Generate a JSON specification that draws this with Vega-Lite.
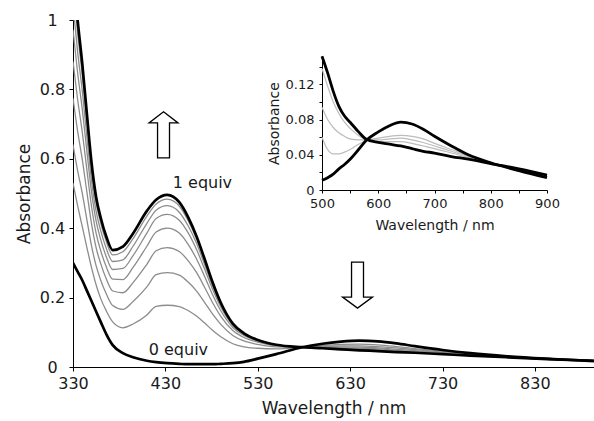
{
 "$schema": "https://vega.github.io/schema/vega-lite/v6.json",
 "width": 521,
 "height": 347,
 "autosize": {"type": "none"},
 "padding": {"left": 73, "top": 20, "right": 0, "bottom": 54},
 "config": {
  "view": {"stroke": null},
  "font": "DejaVu Sans",
  "axis": {"grid": false, "domainColor": "#000", "tickColor": "#000", "labelColor": "#1a1a1a", "titleColor": "#1a1a1a", "titleFontWeight": "normal", "labelFont": "DejaVu Sans", "titleFont": "DejaVu Sans", "domainWidth": 1, "tickWidth": 1}
 },
 "datasets": {
  "mb": [
   {"c":"e1","w":330,"a":1.15},{"c":"e1","w":335,"a":1.0},{"c":"e1","w":340,"a":0.875},{"c":"e1","w":345,"a":0.73},{"c":"e1","w":350,"a":0.59},{"c":"e1","w":355,"a":0.49},{"c":"e1","w":360,"a":0.43},{"c":"e1","w":366,"a":0.376},{"c":"e1","w":373,"a":0.337},{"c":"e1","w":384,"a":0.347},{"c":"e1","w":395,"a":0.385},{"c":"e1","w":410,"a":0.45},{"c":"e1","w":420,"a":0.482},{"c":"e1","w":432,"a":0.496},{"c":"e1","w":445,"a":0.475},{"c":"e1","w":455,"a":0.43},{"c":"e1","w":464,"a":0.375},{"c":"e1","w":472,"a":0.315},{"c":"e1","w":481,"a":0.245},{"c":"e1","w":490,"a":0.185},{"c":"e1","w":503,"a":0.125},{"c":"e1","w":515,"a":0.097},{"c":"e1","w":530,"a":0.078},{"c":"e1","w":550,"a":0.064},{"c":"e1","w":578,"a":0.057},{"c":"e1","w":600,"a":0.054},{"c":"e1","w":620,"a":0.051},{"c":"e1","w":640,"a":0.048},{"c":"e1","w":660,"a":0.046},{"c":"e1","w":680,"a":0.043},{"c":"e1","w":700,"a":0.041},{"c":"e1","w":730,"a":0.037},{"c":"e1","w":760,"a":0.033},{"c":"e1","w":800,"a":0.028},{"c":"e1","w":850,"a":0.022},{"c":"e1","w":894,"a":0.018},
   {"c":"e0","w":330,"a":0.30},{"c":"e0","w":335,"a":0.275},{"c":"e0","w":340,"a":0.25},{"c":"e0","w":345,"a":0.22},{"c":"e0","w":350,"a":0.19},{"c":"e0","w":355,"a":0.16},{"c":"e0","w":360,"a":0.13},{"c":"e0","w":366,"a":0.095},{"c":"e0","w":373,"a":0.063},{"c":"e0","w":384,"a":0.04},{"c":"e0","w":395,"a":0.028},{"c":"e0","w":410,"a":0.018},{"c":"e0","w":420,"a":0.014},{"c":"e0","w":432,"a":0.011},{"c":"e0","w":445,"a":0.009},{"c":"e0","w":455,"a":0.008},{"c":"e0","w":464,"a":0.008},{"c":"e0","w":472,"a":0.008},{"c":"e0","w":481,"a":0.008},{"c":"e0","w":490,"a":0.009},{"c":"e0","w":503,"a":0.011},{"c":"e0","w":515,"a":0.015},{"c":"e0","w":530,"a":0.024},{"c":"e0","w":550,"a":0.037},{"c":"e0","w":578,"a":0.057},{"c":"e0","w":600,"a":0.067},{"c":"e0","w":620,"a":0.073},{"c":"e0","w":640,"a":0.076},{"c":"e0","w":660,"a":0.074},{"c":"e0","w":680,"a":0.068},{"c":"e0","w":700,"a":0.06},{"c":"e0","w":730,"a":0.049},{"c":"e0","w":760,"a":0.04},{"c":"e0","w":800,"a":0.031},{"c":"e0","w":850,"a":0.023},{"c":"e0","w":894,"a":0.017}
  ],
  "mg": [
   {"c":"g1","w":330,"a":1.107},{"c":"g1","w":335,"a":0.963},{"c":"g1","w":340,"a":0.843},{"c":"g1","w":345,"a":0.704},{"c":"g1","w":350,"a":0.570},{"c":"g1","w":355,"a":0.473},{"c":"g1","w":360,"a":0.415},{"c":"g1","w":366,"a":0.362},{"c":"g1","w":373,"a":0.323},{"c":"g1","w":384,"a":0.332},{"c":"g1","w":395,"a":0.370},{"c":"g1","w":410,"a":0.435},{"c":"g1","w":420,"a":0.470},{"c":"g1","w":432,"a":0.484},{"c":"g1","w":445,"a":0.464},{"c":"g1","w":455,"a":0.420},{"c":"g1","w":464,"a":0.367},{"c":"g1","w":472,"a":0.308},{"c":"g1","w":481,"a":0.241},{"c":"g1","w":490,"a":0.183},{"c":"g1","w":503,"a":0.124},{"c":"g1","w":515,"a":0.097},{"c":"g1","w":530,"a":0.078},{"c":"g1","w":550,"a":0.064},{"c":"g1","w":578,"a":0.057},{"c":"g1","w":600,"a":0.054},{"c":"g1","w":620,"a":0.052},{"c":"g1","w":640,"a":0.049},{"c":"g1","w":660,"a":0.047},{"c":"g1","w":680,"a":0.044},{"c":"g1","w":700,"a":0.042},{"c":"g1","w":730,"a":0.037},{"c":"g1","w":760,"a":0.033},{"c":"g1","w":800,"a":0.028},{"c":"g1","w":850,"a":0.022},{"c":"g1","w":894,"a":0.018},
   {"c":"g2","w":330,"a":1.044},{"c":"g2","w":335,"a":0.909},{"c":"g2","w":340,"a":0.797},{"c":"g2","w":345,"a":0.666},{"c":"g2","w":350,"a":0.540},{"c":"g2","w":355,"a":0.449},{"c":"g2","w":360,"a":0.393},{"c":"g2","w":366,"a":0.342},{"c":"g2","w":373,"a":0.304},{"c":"g2","w":384,"a":0.309},{"c":"g2","w":395,"a":0.348},{"c":"g2","w":410,"a":0.414},{"c":"g2","w":420,"a":0.452},{"c":"g2","w":432,"a":0.465},{"c":"g2","w":445,"a":0.446},{"c":"g2","w":455,"a":0.405},{"c":"g2","w":464,"a":0.355},{"c":"g2","w":472,"a":0.299},{"c":"g2","w":481,"a":0.234},{"c":"g2","w":490,"a":0.178},{"c":"g2","w":503,"a":0.122},{"c":"g2","w":515,"a":0.096},{"c":"g2","w":530,"a":0.078},{"c":"g2","w":550,"a":0.064},{"c":"g2","w":578,"a":0.057},{"c":"g2","w":600,"a":0.055},{"c":"g2","w":620,"a":0.052},{"c":"g2","w":640,"a":0.050},{"c":"g2","w":660,"a":0.048},{"c":"g2","w":680,"a":0.045},{"c":"g2","w":700,"a":0.042},{"c":"g2","w":730,"a":0.038},{"c":"g2","w":760,"a":0.033},{"c":"g2","w":800,"a":0.028},{"c":"g2","w":850,"a":0.022},{"c":"g2","w":894,"a":0.018},
   {"c":"g3","w":330,"a":0.972},{"c":"g3","w":335,"a":0.848},{"c":"g3","w":340,"a":0.744},{"c":"g3","w":345,"a":0.623},{"c":"g3","w":350,"a":0.506},{"c":"g3","w":355,"a":0.421},{"c":"g3","w":360,"a":0.367},{"c":"g3","w":366,"a":0.318},{"c":"g3","w":373,"a":0.281},{"c":"g3","w":384,"a":0.284},{"c":"g3","w":395,"a":0.321},{"c":"g3","w":410,"a":0.386},{"c":"g3","w":420,"a":0.428},{"c":"g3","w":432,"a":0.440},{"c":"g3","w":445,"a":0.423},{"c":"g3","w":455,"a":0.385},{"c":"g3","w":464,"a":0.337},{"c":"g3","w":472,"a":0.285},{"c":"g3","w":481,"a":0.225},{"c":"g3","w":490,"a":0.173},{"c":"g3","w":503,"a":0.120},{"c":"g3","w":515,"a":0.094},{"c":"g3","w":530,"a":0.077},{"c":"g3","w":550,"a":0.064},{"c":"g3","w":578,"a":0.057},{"c":"g3","w":600,"a":0.056},{"c":"g3","w":620,"a":0.054},{"c":"g3","w":640,"a":0.051},{"c":"g3","w":660,"a":0.049},{"c":"g3","w":680,"a":0.046},{"c":"g3","w":700,"a":0.043},{"c":"g3","w":730,"a":0.038},{"c":"g3","w":760,"a":0.034},{"c":"g3","w":800,"a":0.028},{"c":"g3","w":850,"a":0.022},{"c":"g3","w":894,"a":0.018},
   {"c":"g4","w":330,"a":0.881},{"c":"g4","w":335,"a":0.771},{"c":"g4","w":340,"a":0.678},{"c":"g4","w":345,"a":0.569},{"c":"g4","w":350,"a":0.464},{"c":"g4","w":355,"a":0.386},{"c":"g4","w":360,"a":0.335},{"c":"g4","w":366,"a":0.289},{"c":"g4","w":373,"a":0.253},{"c":"g4","w":384,"a":0.252},{"c":"g4","w":395,"a":0.287},{"c":"g4","w":410,"a":0.348},{"c":"g4","w":420,"a":0.389},{"c":"g4","w":432,"a":0.400},{"c":"g4","w":445,"a":0.386},{"c":"g4","w":455,"a":0.352},{"c":"g4","w":464,"a":0.310},{"c":"g4","w":472,"a":0.264},{"c":"g4","w":481,"a":0.209},{"c":"g4","w":490,"a":0.162},{"c":"g4","w":503,"a":0.114},{"c":"g4","w":515,"a":0.091},{"c":"g4","w":530,"a":0.075},{"c":"g4","w":550,"a":0.063},{"c":"g4","w":578,"a":0.057},{"c":"g4","w":600,"a":0.057},{"c":"g4","w":620,"a":0.055},{"c":"g4","w":640,"a":0.054},{"c":"g4","w":660,"a":0.052},{"c":"g4","w":680,"a":0.048},{"c":"g4","w":700,"a":0.045},{"c":"g4","w":730,"a":0.039},{"c":"g4","w":760,"a":0.034},{"c":"g4","w":800,"a":0.029},{"c":"g4","w":850,"a":0.022},{"c":"g4","w":894,"a":0.018},
   {"c":"g5","w":330,"a":0.775},{"c":"g5","w":335,"a":0.680},{"c":"g5","w":340,"a":0.599},{"c":"g5","w":345,"a":0.505},{"c":"g5","w":350,"a":0.414},{"c":"g5","w":355,"a":0.344},{"c":"g5","w":360,"a":0.298},{"c":"g5","w":366,"a":0.254},{"c":"g5","w":373,"a":0.219},{"c":"g5","w":384,"a":0.214},{"c":"g5","w":395,"a":0.243},{"c":"g5","w":410,"a":0.296},{"c":"g5","w":420,"a":0.335},{"c":"g5","w":432,"a":0.344},{"c":"g5","w":445,"a":0.333},{"c":"g5","w":455,"a":0.305},{"c":"g5","w":464,"a":0.271},{"c":"g5","w":472,"a":0.232},{"c":"g5","w":481,"a":0.186},{"c":"g5","w":490,"a":0.146},{"c":"g5","w":503,"a":0.105},{"c":"g5","w":515,"a":0.085},{"c":"g5","w":530,"a":0.072},{"c":"g5","w":550,"a":0.061},{"c":"g5","w":578,"a":0.057},{"c":"g5","w":600,"a":0.058},{"c":"g5","w":620,"a":0.058},{"c":"g5","w":640,"a":0.057},{"c":"g5","w":660,"a":0.055},{"c":"g5","w":680,"a":0.051},{"c":"g5","w":700,"a":0.047},{"c":"g5","w":730,"a":0.041},{"c":"g5","w":760,"a":0.035},{"c":"g5","w":800,"a":0.029},{"c":"g5","w":850,"a":0.022},{"c":"g5","w":894,"a":0.018},
   {"c":"g6","w":330,"a":0.641},{"c":"g6","w":335,"a":0.566},{"c":"g6","w":340,"a":0.501},{"c":"g6","w":345,"a":0.425},{"c":"g6","w":350,"a":0.350},{"c":"g6","w":355,"a":0.292},{"c":"g6","w":360,"a":0.250},{"c":"g6","w":366,"a":0.211},{"c":"g6","w":373,"a":0.177},{"c":"g6","w":384,"a":0.166},{"c":"g6","w":395,"a":0.189},{"c":"g6","w":410,"a":0.231},{"c":"g6","w":420,"a":0.266},{"c":"g6","w":432,"a":0.272},{"c":"g6","w":445,"a":0.265},{"c":"g6","w":455,"a":0.244},{"c":"g6","w":464,"a":0.218},{"c":"g6","w":472,"a":0.188},{"c":"g6","w":481,"a":0.153},{"c":"g6","w":490,"a":0.123},{"c":"g6","w":503,"a":0.091},{"c":"g6","w":515,"a":0.075},{"c":"g6","w":530,"a":0.065},{"c":"g6","w":550,"a":0.058},{"c":"g6","w":578,"a":0.057},{"c":"g6","w":600,"a":0.060},{"c":"g6","w":620,"a":0.061},{"c":"g6","w":640,"a":0.061},{"c":"g6","w":660,"a":0.059},{"c":"g6","w":680,"a":0.055},{"c":"g6","w":700,"a":0.050},{"c":"g6","w":730,"a":0.043},{"c":"g6","w":760,"a":0.036},{"c":"g6","w":800,"a":0.029},{"c":"g6","w":850,"a":0.023},{"c":"g6","w":894,"a":0.017},
   {"c":"g7","w":330,"a":0.530},{"c":"g7","w":335,"a":0.465},{"c":"g7","w":340,"a":0.405},{"c":"g7","w":345,"a":0.345},{"c":"g7","w":350,"a":0.287},{"c":"g7","w":355,"a":0.237},{"c":"g7","w":360,"a":0.197},{"c":"g7","w":366,"a":0.162},{"c":"g7","w":373,"a":0.130},{"c":"g7","w":384,"a":0.113},{"c":"g7","w":395,"a":0.124},{"c":"g7","w":410,"a":0.150},{"c":"g7","w":420,"a":0.175},{"c":"g7","w":432,"a":0.178},{"c":"g7","w":445,"a":0.174},{"c":"g7","w":455,"a":0.162},{"c":"g7","w":464,"a":0.146},{"c":"g7","w":472,"a":0.128},{"c":"g7","w":481,"a":0.106},{"c":"g7","w":490,"a":0.087},{"c":"g7","w":503,"a":0.067},{"c":"g7","w":515,"a":0.058},{"c":"g7","w":530,"a":0.054},{"c":"g7","w":550,"a":0.052},{"c":"g7","w":578,"a":0.057},{"c":"g7","w":600,"a":0.062},{"c":"g7","w":620,"a":0.065},{"c":"g7","w":640,"a":0.066},{"c":"g7","w":660,"a":0.064},{"c":"g7","w":680,"a":0.059},{"c":"g7","w":700,"a":0.053},{"c":"g7","w":730,"a":0.045},{"c":"g7","w":760,"a":0.038},{"c":"g7","w":800,"a":0.030},{"c":"g7","w":850,"a":0.023},{"c":"g7","w":894,"a":0.017}
  ],
  "ib": [
   {"c":"e1","w":500,"a":0.152},{"c":"e1","w":510,"a":0.133},{"c":"e1","w":520,"a":0.112},{"c":"e1","w":530,"a":0.095},{"c":"e1","w":540,"a":0.084},{"c":"e1","w":550,"a":0.077},{"c":"e1","w":565,"a":0.066},{"c":"e1","w":578,"a":0.058},{"c":"e1","w":600,"a":0.054},{"c":"e1","w":620,"a":0.052},{"c":"e1","w":640,"a":0.050},{"c":"e1","w":660,"a":0.047},{"c":"e1","w":680,"a":0.044},{"c":"e1","w":700,"a":0.042},{"c":"e1","w":730,"a":0.038},{"c":"e1","w":760,"a":0.035},{"c":"e1","w":800,"a":0.030},{"c":"e1","w":850,"a":0.024},{"c":"e1","w":900,"a":0.017},
   {"c":"e0","w":500,"a":0.011},{"c":"e0","w":510,"a":0.014},{"c":"e0","w":520,"a":0.018},{"c":"e0","w":530,"a":0.024},{"c":"e0","w":540,"a":0.029},{"c":"e0","w":550,"a":0.035},{"c":"e0","w":565,"a":0.046},{"c":"e0","w":578,"a":0.056},{"c":"e0","w":600,"a":0.066},{"c":"e0","w":620,"a":0.073},{"c":"e0","w":640,"a":0.077},{"c":"e0","w":660,"a":0.075},{"c":"e0","w":680,"a":0.069},{"c":"e0","w":700,"a":0.061},{"c":"e0","w":730,"a":0.050},{"c":"e0","w":760,"a":0.040},{"c":"e0","w":800,"a":0.031},{"c":"e0","w":850,"a":0.022},{"c":"e0","w":900,"a":0.014}
  ],
  "ig": [
   {"c":"ia","w":500,"a":0.138},{"c":"ia","w":510,"a":0.118},{"c":"ia","w":520,"a":0.100},{"c":"ia","w":530,"a":0.087},{"c":"ia","w":540,"a":0.077},{"c":"ia","w":550,"a":0.070},{"c":"ia","w":565,"a":0.062},{"c":"ia","w":578,"a":0.057},{"c":"ia","w":600,"a":0.055},{"c":"ia","w":620,"a":0.055},{"c":"ia","w":640,"a":0.055},{"c":"ia","w":660,"a":0.053},{"c":"ia","w":680,"a":0.050},{"c":"ia","w":700,"a":0.047},{"c":"ia","w":730,"a":0.042},{"c":"ia","w":760,"a":0.037},{"c":"ia","w":800,"a":0.031},{"c":"ia","w":850,"a":0.024},{"c":"ia","w":900,"a":0.017},
   {"c":"ib","w":500,"a":0.094},{"c":"ib","w":510,"a":0.080},{"c":"ib","w":520,"a":0.071},{"c":"ib","w":530,"a":0.065},{"c":"ib","w":540,"a":0.061},{"c":"ib","w":550,"a":0.058},{"c":"ib","w":565,"a":0.057},{"c":"ib","w":578,"a":0.057},{"c":"ib","w":600,"a":0.057},{"c":"ib","w":620,"a":0.058},{"c":"ib","w":640,"a":0.059},{"c":"ib","w":660,"a":0.057},{"c":"ib","w":680,"a":0.054},{"c":"ib","w":700,"a":0.050},{"c":"ib","w":730,"a":0.044},{"c":"ib","w":760,"a":0.038},{"c":"ib","w":800,"a":0.031},{"c":"ib","w":850,"a":0.024},{"c":"ib","w":900,"a":0.017},
   {"c":"ic","w":500,"a":0.060},{"c":"ic","w":510,"a":0.046},{"c":"ic","w":520,"a":0.041},{"c":"ic","w":530,"a":0.041},{"c":"ic","w":540,"a":0.043},{"c":"ic","w":550,"a":0.046},{"c":"ic","w":565,"a":0.052},{"c":"ic","w":578,"a":0.056},{"c":"ic","w":600,"a":0.059},{"c":"ic","w":620,"a":0.061},{"c":"ic","w":640,"a":0.062},{"c":"ic","w":660,"a":0.061},{"c":"ic","w":680,"a":0.058},{"c":"ic","w":700,"a":0.053},{"c":"ic","w":730,"a":0.046},{"c":"ic","w":760,"a":0.039},{"c":"ic","w":800,"a":0.031},{"c":"ic","w":850,"a":0.023},{"c":"ic","w":900,"a":0.016}
  ],
  "ann": [
   {"t":"1 equiv","w":438,"a":0.515},
   {"t":"0 equiv","w":412,"a":0.035}
  ],
  "arr": [
   {"d":"up","w":428,"a":0.669},
   {"d":"down","w":638,"a":0.236}
  ]
 },
 "layer": [
  {
   "layer": [
    {
     "data": {"name": "mg"},
     "mark": {"type": "line", "color": "#8c8c8c", "strokeWidth": 1.3, "interpolate": "monotone", "clip": true},
     "encoding": {
      "x": {"field": "w", "type": "quantitative", "scale": {"domain": [330, 894], "nice": false, "zero": false},
            "axis": {"values": [330, 430, 530, 630, 730, 830], "tickSize": 4, "labelFontSize": 16, "labelPadding": 4, "title": "Wavelength / nm", "titleFontSize": 17, "titlePadding": 9, "labelFlush": false}},
      "y": {"field": "a", "type": "quantitative", "scale": {"domain": [0, 1], "nice": false},
            "axis": {"values": [0, 0.1, 0.2, 0.3, 0.4, 0.5, 0.6, 0.7, 0.8, 0.9, 1], "labelExpr": "round(datum.value*10) % 2 == 0 ? format(datum.value, '~g') : ''", "tickSize": 4, "labelFontSize": 16, "labelAlign": "center", "labelPadding": 17, "title": "Absorbance", "titleFontSize": 17, "titlePadding": 6, "labelFlush": false}},
      "detail": {"field": "c"}
     }
    },
    {
     "data": {"name": "mb"},
     "mark": {"type": "line", "color": "#000", "strokeWidth": 2.7, "interpolate": "monotone", "clip": true},
     "encoding": {
      "x": {"field": "w", "type": "quantitative"},
      "y": {"field": "a", "type": "quantitative"},
      "detail": {"field": "c"}
     }
    },
    {
     "data": {"name": "ann"},
     "mark": {"type": "text", "align": "left", "baseline": "alphabetic", "fontSize": 16, "font": "DejaVu Sans", "color": "#1a1a1a"},
     "encoding": {
      "x": {"field": "w", "type": "quantitative"},
      "y": {"field": "a", "type": "quantitative"},
      "text": {"field": "t"}
     }
    },
    {
     "data": {"name": "arr"},
     "mark": {"type": "point", "filled": true, "fill": "#fff", "stroke": "#000", "strokeWidth": 1.3, "size": 2116, "opacity": 1},
     "encoding": {
      "x": {"field": "w", "type": "quantitative"},
      "y": {"field": "a", "type": "quantitative"},
      "shape": {"field": "d", "type": "nominal", "legend": null,
               "scale": {"domain": ["up", "down"], "range": ["M0,-1 L0.63,-0.52 L0.26,-0.52 L0.26,1 L-0.26,1 L-0.26,-0.52 L-0.63,-0.52 Z", "M-0.26,-1 L0.26,-1 L0.26,0.52 L0.65,0.52 L0,1 L-0.65,0.52 L-0.26,0.52 Z"]}}
     }
    }
   ]
  },
  {
   "layer": [
    {
     "data": {"name": "ig"},
     "mark": {"type": "line", "color": "#bcbcbc", "strokeWidth": 1.2, "interpolate": "monotone"},
     "encoding": {
      "x": {"field": "w", "type": "quantitative", "scale": {"domain": [500, 900], "nice": false, "zero": false, "range": [249, 474]},
            "axis": {"orient": "bottom", "offset": -177, "values": [500, 550, 600, 650, 700, 750, 800, 850, 900], "labelExpr": "datum.value % 100 == 0 ? format(datum.value, 'd') : ''", "tickSize": 3, "labelFontSize": 13, "labelPadding": 4, "title": "Wavelength / nm", "titleFontSize": 14, "titlePadding": 8, "labelFlush": false}},
      "y": {"field": "a", "type": "quantitative", "scale": {"domain": [0, 0.152], "nice": false, "range": [170, 36.2]},
            "axis": {"orient": "left", "offset": -249, "values": [0, 0.02, 0.04, 0.06, 0.08, 0.1, 0.12, 0.14], "labelExpr": "round(datum.value*100) % 4 == 0 ? format(datum.value, '~g') : ''", "tickSize": 3, "labelFontSize": 13, "labelPadding": 5, "title": "Absorbance", "titleFontSize": 14, "titlePadding": 4, "labelFlush": false}},
      "detail": {"field": "c"}
     }
    },
    {
     "data": {"name": "ib"},
     "mark": {"type": "line", "color": "#000", "strokeWidth": 2.8, "interpolate": "monotone"},
     "encoding": {
      "x": {"field": "w", "type": "quantitative"},
      "y": {"field": "a", "type": "quantitative"},
      "detail": {"field": "c"}
     }
    }
   ]
  }
 ],
 "resolve": {"scale": {"x": "independent", "y": "independent"}}
}
